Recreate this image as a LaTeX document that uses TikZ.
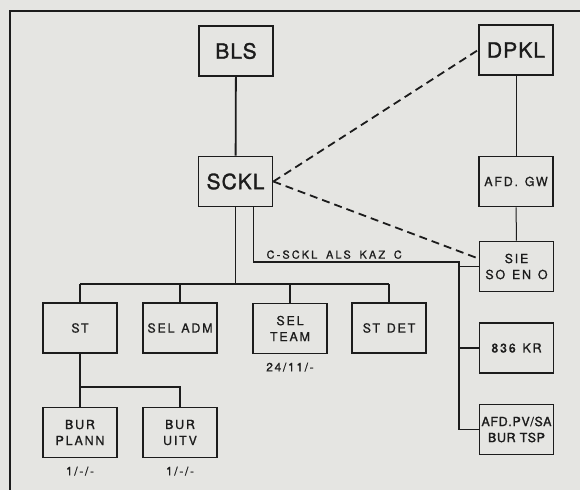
\documentclass[tikz,border=0pt]{standalone}
\usepackage{fontspec}
\setmainfont{TeX Gyre Heros}
\newfontfamily\chartfont[LetterSpace=14,FakeBold=0.8,WordSpace=1.3]{TeX Gyre Heros}
\newfontfamily\linefont[LetterSpace=19,FakeBold=0.8,WordSpace=1.7]{TeX Gyre Heros}
\newfontfamily\headfont[LetterSpace=5,FakeBold=1.4]{TeX Gyre Heros}
\usetikzlibrary{calc,positioning}
\definecolor{Paper}{HTML}{E5E5E2}
\definecolor{Ink}{HTML}{1C1C1C}

\begin{document}
\begin{tikzpicture}[x=1pt,y=-1pt,
  every node/.style={text=Ink,inner sep=0pt},
  unit/.style={draw=Ink,line width=1.8pt,minimum width=74pt,minimum height=50pt,
    align=center,font=\chartfont\fontsize{12.5}{16}\selectfont},
  head/.style={unit,font=\headfont\fontsize{21}{24}\selectfont},
  link/.style={draw=Ink,line width=1.8pt},
  thinlink/.style={draw=Ink,line width=1pt},
  liaison/.style={draw=Ink,line width=1.8pt,dash pattern=on 8pt off 5pt},
  tag/.style={font=\chartfont\fontsize{12}{14}\selectfont}]
  \useasboundingbox (0,0) rectangle (580,490);
  \fill[Paper] (0,0) rectangle (580,490);
  \draw[Ink,line width=2pt] (580,11) -- (10,11) -- (10,490);

  % Line units.
  \node[head] (BLS) at (236,51) {BLS};
  \node[head] (SCKL) at (235.5,181.5) {SCKL};
  \node[head] (DPKL) at (516,50) {DPKL};
  \node[unit] (GW) at (516,181.5) {AFD. GW};
  \node[unit] (SIE) at (516.5,266.5) {SIE\\SO EN O};
  \node[unit] (KR) at (516.5,348) {836 KR};
  \node[unit,font=\headfont\fontsize{12.5}{16}\selectfont] (PVSA) at (516.5,429.5) {AFD.PV/SA\\BUR TSP};

  % Staff sections and bureaus.
  \node[unit] (ST) at (80,328) {ST};
  \node[unit] (SELADM) at (180,328) {SEL ADM};
  \node[unit] (SELTEAM) at (290,328.5) {SEL\\TEAM};
  \node[unit] (STDET) at (389,328) {ST DET};
  \node[unit] (PLANN) at (80,432.5) {BUR\\PLANN};
  \node[unit] (UITV) at (180,432.5) {BUR\\UITV};
  \node[tag,below=8pt of SELTEAM] (TEAMtag) {24/11/-};
  \node[tag,below=8pt of PLANN] (PLANNtag) {1/-/-};
  \node[tag,below=8pt of UITV] (UITVtag) {1/-/-};

  % Command lines.
  \draw[link] (BLS) -- (SCKL);
  \draw[thinlink] (DPKL) -- (GW);
  \draw[thinlink] (GW) -- (SIE);
  \coordinate (tier) at (0,284);
  \draw[link] (SCKL.south) -- (SCKL.south |- tier);
  \draw[link] (ST.north |- tier) -- (STDET.north |- tier);
  \foreach \u in {ST,SELADM,SELTEAM,STDET}
    \draw[link] (\u.north) -- (\u.north |- tier);
  \coordinate (burbar) at (0,387);
  \draw[link] (ST) -- (PLANN);
  \draw[link] (ST.south |- burbar) -- (UITV.north |- burbar) -- (UITV.north);

  % C-SCKL as KAZ C.
  \coordinate (kazc) at ($(SCKL.south east)+(-20,0)$);
  \coordinate (bus) at (459,262);
  \draw[link] (kazc) |- (bus) -- (bus |- PVSA.west) -- (PVSA.west);
  \draw[link] (bus |- SIE.west) -- (SIE.west);
  \draw[link] (bus |- KR.west) -- (KR.west);
  \node[anchor=south west,font=\linefont\fontsize{11}{13}\selectfont] (KAZC)
    at ($(kazc |- bus)+(13,-3)$) {C-SCKL ALS KAZ C};

  % Liaison.
  \coordinate (sieport) at ($(SIE.north west)+(0,18)$);
  \draw[liaison] (SCKL.east) -- (DPKL.west);
  \draw[liaison] (SCKL.east) -- (sieport);
\end{tikzpicture}
\end{document}
